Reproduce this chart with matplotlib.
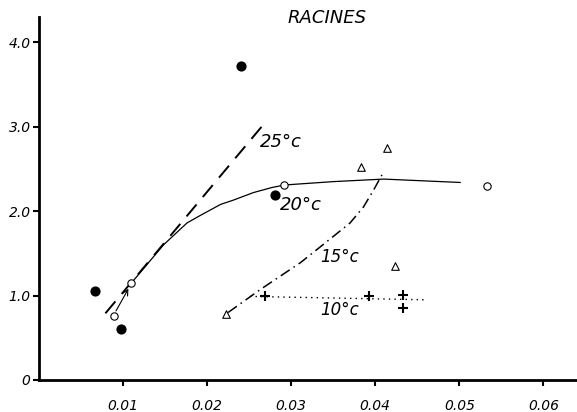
import matplotlib.pyplot as plt

x25 = [0.0067, 0.0098, 0.0240, 0.0281]
y25 = [1.06, 0.60, 3.72, 2.19]
x20 = [0.0089, 0.0110, 0.0292, 0.0533]
y20 = [0.76, 1.15, 2.31, 2.30]
x15 = [0.0223, 0.0383, 0.0414, 0.0423]
y15 = [0.78, 2.52, 2.75, 1.35]
x10 = [0.0269, 0.0392, 0.0433, 0.0433]
y10 = [0.99, 0.99, 1.01, 0.85]

# hand drawn fit lines
fit25_x = [0.0079, 0.0269]
fit25_y = [0.79, 3.05]
fit20_x = [0.0110, 0.0148, 0.0176, 0.0192, 0.0216, 0.0231, 0.0255, 0.0277,
           0.0292, 0.0350, 0.0410, 0.0501]
fit20_y = [1.15, 1.60, 1.86, 1.95, 2.08, 2.13, 2.22, 2.28,
           2.31, 2.35, 2.38, 2.34]
fit15_x = [0.0225, 0.0263, 0.0311, 0.0340, 0.0370, 0.0386, 0.0398, 0.0408]
fit15_y = [0.80, 1.07, 1.39, 1.62, 1.86, 2.05, 2.25, 2.43]
fit10_x = [0.0251, 0.0460]
fit10_y = [0.99, 0.95]

xticks = [0.01, 0.02, 0.03, 0.04, 0.05, 0.06]
xlabels = ["0.01", "0.02", "0.03", "0.04", "0.05", "0.06"]
yticks = [0, 1, 2, 3, 4]
ylabels = ["0", "1.0", "2.0", "3.0", "4.0"]

fig = plt.figure(figsize=(5.77, 4.12), dpi=100)
ax = fig.add_axes([0.0676, 0.0777, 0.9324, 0.881])

# curves
ax.plot(fit25_x, fit25_y, color="black", lw=1.4, dashes=(8, 5))
ax.plot(fit20_x, fit20_y, color="black", lw=0.9)
ax.plot(fit15_x, fit15_y, color="black", lw=1.1, dashes=(7, 3, 1, 3))
ax.plot(fit10_x, fit10_y, color="black", lw=1.0, ls=(0, (1, 3)))
ax.annotate("", xy=(x20[1] - 0.0002, y20[1] - 0.04), xytext=(x20[0] + 0.0001, y20[0] + 0.03),
            arrowprops=dict(arrowstyle="->", lw=0.8, color="black"))

# points
ax.scatter(x25, y25, s=40, color="black", zorder=3)
ax.scatter(x20, y20, s=28, facecolor="white", edgecolor="black", lw=0.8, zorder=3)
ax.scatter(x15, y15, s=30, marker="^", facecolor="white", edgecolor="black", lw=0.8, zorder=3)
ax.scatter(x10, y10, s=45, marker="+", color="black", lw=1.5, zorder=3)

# labels
ax.text(0.0263, 2.82, "25°c", fontsize=13, style="italic", va="center")
ax.text(0.0287, 2.07, "20°c", fontsize=13, style="italic", va="center")
ax.text(0.0335, 1.46, "15°c", fontsize=12, style="italic", va="center")
ax.text(0.0335, 0.83, "10°c", fontsize=12, style="italic", va="center")
fig.text(0.567, 0.957, "RACINES", fontsize=13, style="italic", ha="center", va="center")

ax.set_xlim(0, 0.064)
ax.set_ylim(0, 4.3)
ax.set_xticks(xticks)
ax.set_xticklabels(xlabels, style="italic", fontsize=10)
ax.set_yticks(yticks)
ax.set_yticklabels(ylabels, style="italic", fontsize=10)
ax.tick_params(direction="out", length=4, width=1.5, pad=10)
ax.tick_params(axis="y", pad=2)

ax.spines["top"].set_visible(False)
ax.spines["right"].set_visible(False)
ax.spines["left"].set_linewidth(2)
ax.spines["bottom"].set_linewidth(2)

plt.savefig("out.png", dpi=100)
